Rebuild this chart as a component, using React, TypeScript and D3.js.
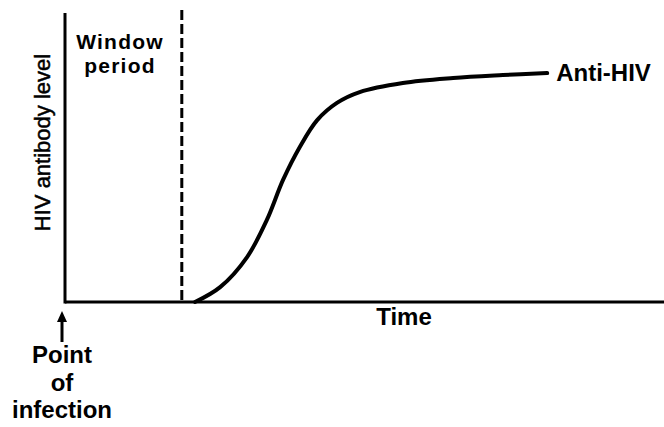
import React from "react";
import * as d3 from "d3";

const timeValues = [21.7, 25.9, 30.4, 33.7, 36.4, 39.2, 42.1, 45.4, 49.2, 56.4, 64.8, 73.1, 80.5];
const antibodyValues = [0, 5.1, 15.4, 28.1, 41.8, 53.1, 62.3, 68.2, 71.9, 75, 76.7, 77.7, 78.4];
const windowEnd = 19.5;
const seriesLabel = "Anti-HIV";
const xLabel = "Time";
const yLabel = "HIV antibody level";
const windowLabel = ["Window", "period"];
const infectionLabel = ["Point", "of", "infection"];

const W = 664;
const H = 427;
const FONT = "'Liberation Sans', Arial, Helvetica, sans-serif";

export default function App() {
  const x = d3.scaleLinear().domain([0, 100]).range([65, 664]);
  const y = d3.scaleLinear().domain([0, 100]).range([302, 10]);
  const pts: [number, number][] = timeValues.map((t, i) => [t, antibodyValues[i]]);
  const line = d3
    .line<[number, number]>()
    .x((d) => x(d[0]))
    .y((d) => y(d[1]))
    .curve(d3.curveCatmullRom.alpha(0.5));
  const last = pts[pts.length - 1];
  return (
    <svg
      width={W}
      height={H}
      style={{ position: "absolute", left: 0, top: 0, background: "#fff" }}
      fontFamily={FONT}
    >
      {/* y axis */}
      <line x1={x(0)} x2={x(0)} y1={y(99)} y2={y(0) + 1.5} stroke="#000" strokeWidth={3} />
      {/* x axis */}
      <line x1={x(0)} x2={x(100)} y1={y(0)} y2={y(0)} stroke="#000" strokeWidth={3} />
      {/* window end dashed */}
      <line
        x1={x(windowEnd)}
        x2={x(windowEnd)}
        y1={y(100)}
        y2={y(0)}
        stroke="#000"
        strokeWidth={3}
        strokeDasharray="10 4"
      />
      {/* antibody curve */}
      <path d={line(pts) || ""} fill="none" stroke="#000" strokeWidth={4} strokeLinecap="round" />
      <text x={x(last[0]) + 9} y={y(last[1]) + 8} fontSize={24} fontWeight="bold" fill="#000">
        {seriesLabel}
      </text>
      {/* window period label */}
      <text x={120} y={49} fontSize={21} fontWeight="bold" letterSpacing={1.2} textAnchor="middle" fill="#000">
        {windowLabel[0]}
      </text>
      <text x={120} y={73} fontSize={21} fontWeight="bold" letterSpacing={1.2} textAnchor="middle" fill="#000">
        {windowLabel[1]}
      </text>
      {/* y label */}
      <text
        transform={`translate(50, ${(232 + 53) / 2}) rotate(-90)`}
        fontSize={22}
        textAnchor="middle"
        fill="#000"
        stroke="#000"
        strokeWidth={0.5}
      >
        {yLabel}
      </text>
      {/* x label */}
      <text x={404} y={325} fontSize={24} fontWeight="bold" textAnchor="middle" fill="#000">
        {xLabel}
      </text>
      {/* arrow */}
      <line x1={x(0) - 3} x2={x(0) - 3} y1={342} y2={318} stroke="#000" strokeWidth={3} />
      <path d={`M${x(0) - 3},311 L${x(0) - 8},322 L${x(0) + 2},322 Z`} fill="#000" />
      {infectionLabel.map((t, i) => (
        <text
          key={t}
          x={62}
          y={363 + i * 27.5}
          fontSize={24}
          fontWeight="bold"
          textAnchor="middle"
          fill="#000"
        >
          {t}
        </text>
      ))}
    </svg>
  );
}
